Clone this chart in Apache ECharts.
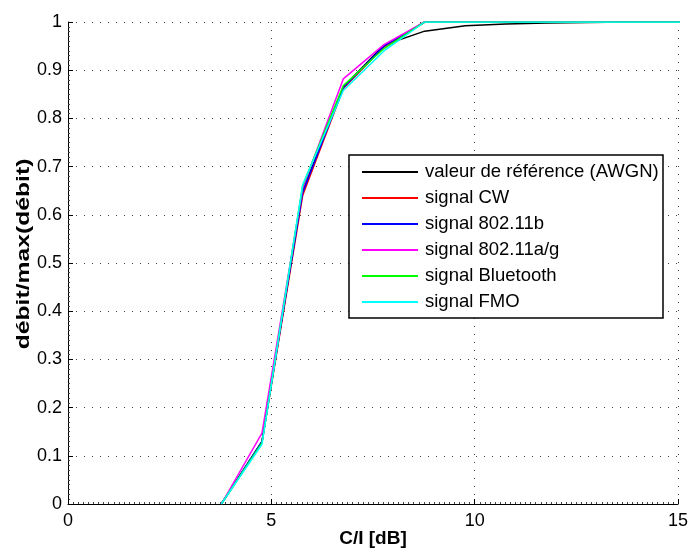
<!DOCTYPE html>
<html>
<head>
<meta charset="utf-8">
<script src="https://cdn.jsdelivr.net/npm/echarts@6/dist/echarts.min.js"></script>
<style>
html,body{margin:0;padding:0;background:#fff;}
#chart{width:688px;height:551px;}
</style>
</head>
<body>
<div id="chart"></div>
<script>
// C/I values (dB)
const ciValues = [3.77, 4.77, 5.77, 6.77, 7.77, 8.77, 9.77, 10.77, 11.77, 12.77, 13.77, 14.77, 15.77];
const seriesNames = ['valeur de référence (AWGN)', 'signal CW', 'signal 802.11b', 'signal 802.11a/g', 'signal Bluetooth', 'signal FMO'];
const awgn      = [0, 0.130, 0.650, 0.865, 0.952, 0.981, 0.992, 0.996, 0.998, 0.999, 1, 1, 1];
const cw        = [0, 0.128, 0.640, 0.862, 0.948, 1, 1, 1, 1, 1, 1, 1, 1];
const w80211b   = [0, 0.130, 0.646, 0.864, 0.950, 1, 1, 1, 1, 1, 1, 1, 1];
const w80211ag  = [0, 0.147, 0.655, 0.882, 0.953, 1, 1, 1, 1, 1, 1, 1, 1];
const bluetooth = [0, 0.127, 0.660, 0.868, 0.945, 1, 1, 1, 1, 1, 1, 1, 1];
const fmo       = [0, 0.124, 0.662, 0.858, 0.940, 1, 1, 1, 1, 1, 1, 1, 1];
const xTicks = [0, 5, 10, 15];
const yTicks = [0, 0.1, 0.2, 0.3, 0.4, 0.5, 0.6, 0.7, 0.8, 0.9, 1];
const xTitle = 'C/I [dB]';
const yTitle = 'débit/max(débit)';

const allValues = [awgn, cw, w80211b, w80211ag, bluetooth, fmo];
const colors = ['#000000', '#ff0000', '#0000ff', '#ff00ff', '#00ff00', '#00ffff'];
const FONT = '"Liberation Sans", Arial, sans-serif';

const chart = echarts.init(document.getElementById('chart'), null, {renderer: 'canvas'});
const series = seriesNames.map((name, i) => ({
  name: name,
  type: 'line',
  data: ciValues.map((x, j) => [x, allValues[i][j]]),
  symbol: 'none',
  showSymbol: false,
  clip: true,
  animation: false,
  lineStyle: {color: colors[i], width: 1.5},
  itemStyle: {color: colors[i]},
  z: 3 + i
}));

const gridDots = {color: '#444', width: 1, type: [1, 7]};

chart.setOption({
  animation: false,
  backgroundColor: '#ffffff',
  grid: {left: 68, top: 22, width: 610, height: 482, containLabel: false, outerBoundsMode: 'none'},
  xAxis: {
    type: 'value', min: xTicks[0], max: xTicks[xTicks.length - 1], interval: 5,
    name: xTitle, nameLocation: 'middle', nameGap: 25, nameMoveOverlap: false,
    nameTextStyle: {fontFamily: FONT, fontSize: 19, fontWeight: 'bold', color: '#000', verticalAlign: 'top'},
    axisLine: {show: true, onZero: false, lineStyle: {color: '#000', width: 1}},
    axisTick: {show: true, inside: true, length: 5, lineStyle: {color: '#000'}},
    minorTick: {show: true, splitNumber: 40, length: 2, lineStyle: {color: '#444'}},
    axisLabel: {fontFamily: FONT, fontSize: 18, color: '#000', margin: 8},
    splitLine: {show: true, lineStyle: gridDots}
  },
  yAxis: {
    type: 'value', min: yTicks[0], max: yTicks[yTicks.length - 1], interval: 0.1,
    axisLine: {show: true, onZero: false, lineStyle: {color: '#000', width: 1}},
    axisTick: {show: true, inside: true, length: 5, lineStyle: {color: '#000'}},
    minorTick: {show: true, splitNumber: 10, length: 2, lineStyle: {color: '#444'}},
    axisLabel: {fontFamily: FONT, fontSize: 18, color: '#000', margin: 6},
    splitLine: {show: true, lineStyle: gridDots}
  },
  legend: {
    orient: 'vertical',
    left: 362, top: 162,
    itemWidth: 56, itemHeight: 20, itemGap: 6,
    padding: 0,
    icon: 'path://M0,0H56V2H0Z',
    textStyle: {fontFamily: FONT, fontSize: 18.5, lineHeight: 20, color: '#000', padding: [0, 0, 0, 2]},
    data: seriesNames
  },
  graphic: [{
    type: 'rect', x: 349, y: 155, z: 100, silent: true,
    shape: {width: 314, height: 163},
    style: {fill: 'none', stroke: '#000', lineWidth: 1.5}
  }, {
    type: 'rect', x: 349, y: 155, z: 1, silent: true,
    shape: {width: 314, height: 163},
    style: {fill: '#fff'}
  }, {
    type: 'text', x: 24, y: 254, rotation: Math.PI / 2, scaleX: 1.3, silent: true,
    style: {text: yTitle, font: 'bold 19px "Liberation Sans", Arial, sans-serif', fill: '#000', align: 'center', verticalAlign: 'middle'}
  }],
  series: series
});
</script>
</body>
</html>
